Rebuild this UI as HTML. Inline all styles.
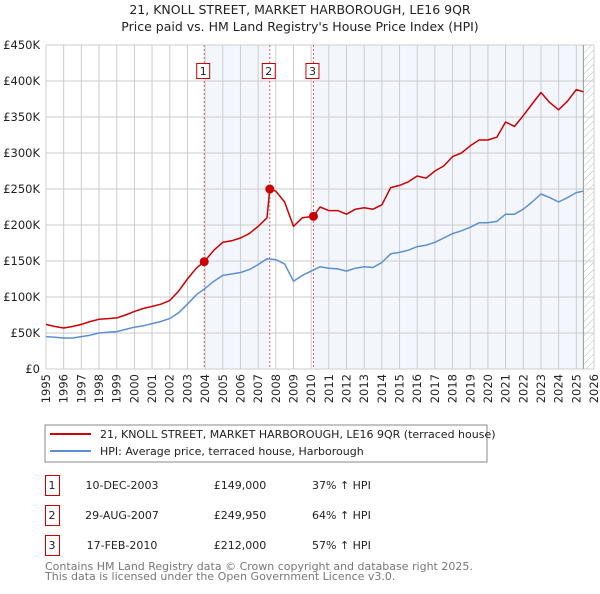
<!DOCTYPE html>
<html><head><meta charset="utf-8"><style>
body{margin:0;background:#fff;font-family:"DejaVu Sans","Liberation Sans",sans-serif;}
svg text{font-family:"DejaVu Sans","Liberation Sans",sans-serif;}
</style></head><body>
<svg id="c" width="600" height="590" xmlns="http://www.w3.org/2000/svg">
<defs><pattern id="hatch" width="5" height="5" patternUnits="userSpaceOnUse" patternTransform="rotate(45)"><line x1="0" y1="0" x2="0" y2="5" stroke="#bbb" stroke-width="1"/></pattern></defs>
<text x="300" y="14" text-anchor="middle" font-size="12.5" fill="#222">21, KNOLL STREET, MARKET HARBOROUGH, LE16 9QR</text>
<text x="300" y="31" text-anchor="middle" font-size="12.5" fill="#222">Price paid vs. HM Land Registry's House Price Index (HPI)</text>
<g id="plot"></g>
<rect x="45" y="425" width="442" height="37" fill="#fff" stroke="#888"/>
<line x1="50" y1="434" x2="91" y2="434" stroke="#cc0000" stroke-width="2"/>
<text x="100" y="438" font-size="11" fill="#222">21, KNOLL STREET, MARKET HARBOROUGH, LE16 9QR (terraced house)</text>
<line x1="50" y1="451" x2="91" y2="451" stroke="#5b8fd4" stroke-width="2"/>
<text x="100" y="455" font-size="11" fill="#222">HPI: Average price, terraced house, Harborough</text>
<g font-size="11" fill="#222">
<g><rect x="45.5" y="475.5" width="14" height="20" fill="none" stroke="#cc0000"/><text x="52" y="489" text-anchor="middle">1</text><text x="122" y="489" text-anchor="middle">10-DEC-2003</text><text x="240" y="489" text-anchor="middle">£149,000</text><text x="312" y="489">37% ↑ HPI</text></g>
<g><rect x="45.5" y="505.5" width="14" height="20" fill="none" stroke="#cc0000"/><text x="52" y="519" text-anchor="middle">2</text><text x="122" y="519" text-anchor="middle">29-AUG-2007</text><text x="240" y="519" text-anchor="middle">£249,950</text><text x="312" y="519">64% ↑ HPI</text></g>
<g><rect x="45.5" y="535.5" width="14" height="20" fill="none" stroke="#cc0000"/><text x="52" y="549" text-anchor="middle">3</text><text x="122" y="549" text-anchor="middle">17-FEB-2010</text><text x="240" y="549" text-anchor="middle">£212,000</text><text x="312" y="549">57% ↑ HPI</text></g>
</g>
<text x="45" y="570" font-size="11" fill="#777">Contains HM Land Registry data © Crown copyright and database right 2025.</text>
<text x="45" y="580" font-size="11" fill="#777">This data is licensed under the Open Government Licence v3.0.</text>
</svg>
<script>
const hpiYears=[1995,1995.5,1996,1996.5,1997,1997.5,1998,1998.5,1999,1999.5,2000,2000.5,2001,2001.5,2002,2002.5,2003,2003.5,2004,2004.5,2005,2005.5,2006,2006.5,2007,2007.5,2008,2008.5,2009,2009.5,2010,2010.5,2011,2011.5,2012,2012.5,2013,2013.5,2014,2014.5,2015,2015.5,2016,2016.5,2017,2017.5,2018,2018.5,2019,2019.5,2020,2020.5,2021,2021.5,2022,2022.5,2023,2023.5,2024,2024.5,2025,2025.4];
const hpiValues=[45,44,43,43,45,47,50,51,52,55,58,60,63,66,70,78,90,103,112,122,130,132,134,138,145,153,152,146,122,130,136,142,140,139,136,140,142,141,148,160,162,165,170,172,176,182,188,192,197,203,203,205,215,215,222,232,243,238,232,238,245,247];
const priceYears=[1995,1995.5,1996,1996.5,1997,1997.5,1998,1998.5,1999,1999.5,2000,2000.5,2001,2001.5,2002,2002.5,2003,2003.5,2003.95,2004.5,2005,2005.5,2006,2006.5,2007,2007.5,2007.66,2008,2008.5,2009,2009.5,2010.13,2010.5,2011,2011.5,2012,2012.5,2013,2013.5,2014,2014.5,2015,2015.5,2016,2016.5,2017,2017.5,2018,2018.5,2019,2019.5,2020,2020.5,2021,2021.5,2022,2022.5,2023,2023.5,2024,2024.5,2025,2025.4];
const priceValues=[62,59,57,59,62,66,69,70,71,75,80,84,87,90,95,108,125,140,149,165,176,178,182,188,198,210,250,247,232,198,210,212,225,220,220,215,222,224,222,228,252,255,260,268,265,275,282,295,300,310,318,318,322,343,337,352,368,384,370,360,372,388,385];
const saleYears=[2003.95,2007.66,2010.13];
const saleValues=[149,249.95,212];
const saleLabels=["1","2","3"];
const yTicks=[0,50,100,150,200,250,300,350,400,450];
const yTickLabels=["£0","£50K","£100K","£150K","£200K","£250K","£300K","£350K","£400K","£450K"];
const xTicks=[];for(let y=1995;y<=2026;y++)xTicks.push(y);
const X0=46,X1=594,Y0=369,Y1=45;
const xs=v=>X0+(v-1995)/(2026-1995)*(X1-X0);
const ys=v=>Y0-v/450*(Y0-Y1);
const NS="http://www.w3.org/2000/svg";
const g=document.getElementById('plot');
function mk(t,a){const e=document.createElementNS(NS,t);for(const k in a)e.setAttribute(k,a[k]);g.appendChild(e);return e;}
let e;
e=mk('rect',{x:xs(saleYears[0]),y:Y1,width:xs(saleYears[1])-xs(saleYears[0]),height:Y0-Y1,fill:'#eef3fc',opacity:0.7});


e=mk('rect',{x:xs(saleYears[2]),y:Y1,width:xs(2025.4)-xs(saleYears[2]),height:Y0-Y1,fill:'#eef3fc',opacity:0.7});


e=mk('rect',{x:xs(2025.4),y:Y1,width:X1-xs(2025.4),height:Y0-Y1,fill:'url(#hatch)'});


xTicks.forEach(t=>{e=mk('line',{x1:xs(t),x2:xs(t),y1:Y1,y2:Y0,stroke:'#ccc','stroke-width':1});


const tx=xs(t)+4,ty=Y0+5;
e=mk('text',{x:tx,y:ty,'text-anchor':'end','font-size':11.5,fill:'#222',transform:'rotate(-90 '+tx+' '+ty+')'});e.textContent=t;

});
yTicks.forEach((t,i)=>{e=mk('line',{x1:X0,x2:X1,y1:ys(t),y2:ys(t),stroke:'#ccc','stroke-width':1});


e=mk('text',{x:X0-6,y:ys(t)+4,'text-anchor':'end','font-size':11.5,fill:'#222'});e.textContent=yTickLabels[i];

});
e=mk('line',{x1:xs(2025.4),x2:xs(2025.4),y1:Y1,y2:Y0,stroke:'#999','stroke-width':1});


saleYears.forEach((s,i)=>{e=mk('line',{x1:xs(s),x2:xs(s),y1:Y1,y2:Y0,stroke:'#e06060','stroke-width':1,'stroke-dasharray':'2,2'});


e=mk('rect',{x:xs(s)-7.5,y:63.5,width:13,height:15,fill:'#fff',stroke:'#cc0000'});


e=mk('text',{x:xs(s)-1,y:75,'text-anchor':'middle','font-size':11,fill:'#222'});e.textContent=saleLabels[i];

});
function line(ya,va,col,name){const d=ya.map((y,i)=>(i?'L':'M')+xs(y).toFixed(1)+','+ys(va[i]).toFixed(1)).join('');
const p=mk('path',{d:d,fill:'none',stroke:col,'stroke-width':1.5,'stroke-linejoin':'round'});

}
line(hpiYears,hpiValues,'#5b8fd4','hpi-line');
line(priceYears,priceValues,'#cc0000','price-line');
saleYears.forEach((s,i)=>{e=mk('circle',{cx:xs(s),cy:ys(saleValues[i]),r:4.5,fill:'#cc0000'});

});
</script>
</body></html>
